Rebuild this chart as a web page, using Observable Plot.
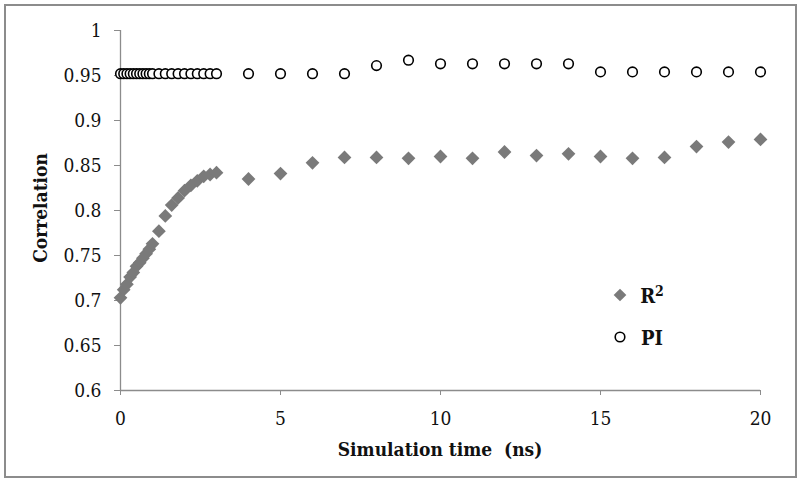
<!DOCTYPE html>
<html><head><meta charset="utf-8">
<script src="https://cdn.jsdelivr.net/npm/d3@7"></script>
<script src="https://cdn.jsdelivr.net/npm/@observablehq/plot@0.6"></script>
<style>
html,body{margin:0;padding:0;background:#fff;}
#wrap{position:relative;width:800px;height:481px;}
#border{position:absolute;left:4px;top:4px;width:789px;height:470px;border:2px solid #8c8c8c;pointer-events:none;}
</style></head>
<body><div id="wrap"><div id="border"></div></div>
<script>
const time = [0,0.1,0.2,0.3,0.4,0.5,0.6,0.7,0.8,0.9,1.0,1.2,1.4,1.6,1.8,2.0,2.2,2.4,2.6,2.8,3.0,4,5,6,7,8,9,10,11,12,13,14,15,16,17,18,19,20];
const r2 = [0.703,0.712,0.718,0.726,0.731,0.738,0.742,0.747,0.752,0.757,0.763,0.777,0.794,0.806,0.814,0.822,0.828,0.833,0.838,0.840,0.842,0.835,0.841,0.853,0.859,0.859,0.858,0.860,0.858,0.865,0.861,0.863,0.860,0.858,0.859,0.871,0.876,0.879];
const pi = [0.952,0.952,0.952,0.952,0.952,0.952,0.952,0.952,0.952,0.952,0.952,0.952,0.952,0.952,0.952,0.952,0.952,0.952,0.952,0.952,0.952,0.952,0.952,0.952,0.952,0.961,0.967,0.963,0.963,0.963,0.963,0.963,0.954,0.954,0.954,0.954,0.954,0.954];
const xTicks = [0,5,10,15,20];
const yTicks = [0.6,0.65,0.7,0.75,0.8,0.85,0.9,0.95,1];
const seriesNames = ["R", "PI"];

const rows = time.map((t,i)=>({t, r2:r2[i], pi:pi[i]}));
const font = '"DejaVu Serif Condensed", "DejaVu Serif", serif';
const fmt = d => String(+d.toFixed(2));
const chart = Plot.plot({
  width: 800, height: 481,
  marginLeft: 120, marginRight: 40, marginTop: 30, marginBottom: 91,
  style: {fontFamily: font, fontSize: "19px", color: "#111", background: "transparent"},
  x: {domain: [0,20], label: null},
  y: {domain: [0.6,1], label: null},
  marks: [
    Plot.axisX({ticks: xTicks, tickSize: 5, tickPadding: 16, stroke: "#8c8c8c", fontSize: 19}),
    Plot.axisY({ticks: yTicks, tickSize: 6, tickPadding: 13, stroke: "#8c8c8c", fontSize: 19, tickFormat: fmt}),
    Plot.ruleX([0], {stroke: "#8c8c8c", strokeWidth: 1.3}),
    Plot.ruleY([0.6], {stroke: "#8c8c8c", strokeWidth: 1.3}),
    Plot.dot(rows, {x: "t", y: "r2", symbol: "diamond2", r: 6.2, fill: "#7a7a7a", stroke: "none"}),
    Plot.dot(rows, {x: "t", y: "pi", symbol: "circle", r: 4.8, fill: "white", stroke: "#000", strokeWidth: 1.6})
  ]
});
const wrap = document.getElementById("wrap");
chart.style.position = "absolute"; chart.style.left = "0"; chart.style.top = "0";
wrap.appendChild(chart);

const svg = d3.select(chart);
svg.append("text").attr("x", 440).attr("y", 456).attr("text-anchor","middle")
  .attr("font-family", font).attr("font-weight","bold").attr("font-size", 19).attr("fill","#111")
  .attr("xml:space","preserve").text("Simulation time  (ns)");
svg.append("text").attr("transform","translate(47,208) rotate(-90)").attr("text-anchor","middle")
  .attr("font-family", font).attr("font-weight","bold").attr("font-size", 19).attr("fill","#111")
  .text("Correlation");

// legend
const leg = svg.append("g");
const sym = [d3.symbolDiamond2, d3.symbolCircle];
seriesNames.forEach((name,i)=>{
  const y = 295 + i*42;
  leg.append("path").attr("transform",`translate(620,${y})`)
    .attr("d", d3.symbol(sym[i], i===0 ? Math.PI*6.2*6.2*0.85 : Math.PI*4.8*4.8)())
    .attr("fill", i===0 ? "#7a7a7a" : "white").attr("stroke", i===0 ? "none" : "#000").attr("stroke-width",1.6);
  const t = leg.append("text").attr("x", 652).attr("y", y+8).attr("font-family", font).attr("font-weight","bold")
    .attr("font-size", 20).attr("fill","#111").text(name);
  if (i===0) t.append("tspan").attr("dy", -7).attr("font-size", 14).text("2");
});
</script></body></html>
